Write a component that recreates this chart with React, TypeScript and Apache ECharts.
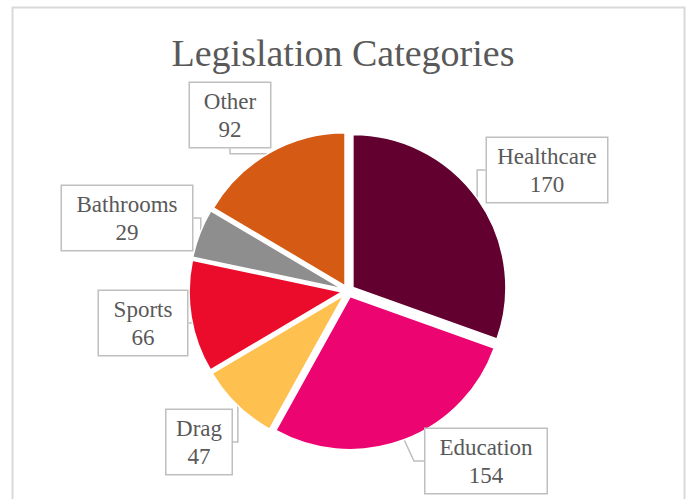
import React, { useEffect, useRef } from "react";
import * as echarts from "echarts";

const categories = ["Healthcare", "Education", "Drag", "Sports", "Bathrooms", "Other"];
const values = [170, 154, 47, 66, 29, 92];
const colors = ["#620030", "#EC0471", "#FEC04E", "#EA0C2A", "#8E8E8E", "#D55B15"];
const titleText = "Legislation Categories";

// label box layout (centre x, centre y, content width)
const labelBoxes = [
  { x: 547, y: 170, w: 102 },
  { x: 486, y: 461, w: 103 },
  { x: 199, y: 442, w: 47 },
  { x: 143, y: 323, w: 70 },
  { x: 127, y: 218, w: 112 },
  { x: 230, y: 115, w: 62 },
];

export default function App() {
  const ref = useRef<HTMLDivElement>(null);
  useEffect(() => {
    if (!ref.current) return;
    const chart = echarts.init(ref.current, null, { renderer: "svg" });
    const font = "'Liberation Serif', 'Times New Roman', serif";
    const center = [348, 291];
    chart.setOption({
      animation: false,
      backgroundColor: "#ffffff",
      title: {
        text: titleText,
        left: "center",
        top: 29,
        textStyle: { fontFamily: font, fontSize: 38, fontWeight: "normal", color: "#595959" },
      },
      graphic: [
        {
          type: "rect",
          shape: { x: 12.5, y: 7.5, width: 672, height: 520 },
          style: { fill: "none", stroke: "#d9d9d9", lineWidth: 2 },
          silent: true,
        },
      ],
      series: [
        {
          type: "pie",
          center,
          radius: 153,
          startAngle: 90,
          clockwise: true,
          selectedMode: "multiple",
          selectedOffset: 6,
          silent: true,
          itemStyle: { borderColor: "#ffffff", borderWidth: 1.5 },
          select: { itemStyle: { borderColor: "#ffffff", borderWidth: 1.5 } },
          emphasis: { disabled: true },
          label: { show: false },
          labelLine: { show: false },
          data: categories.map((name, i) => ({
            name,
            value: values[i],
            selected: true,
            itemStyle: { color: colors[i] },
          })),
        },
        {
          type: "pie",
          center,
          radius: 158,
          startAngle: 90,
          clockwise: true,
          silent: true,
          avoidLabelOverlap: false,
          emphasis: { disabled: true },
          itemStyle: { color: "rgba(0,0,0,0)", borderWidth: 0 },
          label: {
            show: true,
            position: "outside",
            formatter: "{b}\n{c}",
            fontFamily: font,
            fontSize: 23,
            lineHeight: 28,
            color: "#595959",
            align: "center",
            backgroundColor: "#ffffff",
            borderColor: "#bfbfbf",
            borderWidth: 1.5,
            padding: [6, 9, 2, 9],
          },
          labelLine: {
            show: true,
            length: 10,
            length2: 10,
            lineStyle: { color: "#bfbfbf", width: 1.5 },
          },
          labelLayout: (params: any) => {
            const b = labelBoxes[params.dataIndex];
            return { x: b.x, y: b.y, align: "center", verticalAlign: "middle" };
          },
          data: categories.map((name, i) => ({
            name,
            value: values[i],
            label: { width: labelBoxes[i].w },
          })),
        },
      ],
    });
    return () => chart.dispose();
  }, []);
  return (
    <div
      ref={ref}
      style={{ position: "absolute", left: 0, top: 0, width: 686, height: 499 }}
    />
  );
}
